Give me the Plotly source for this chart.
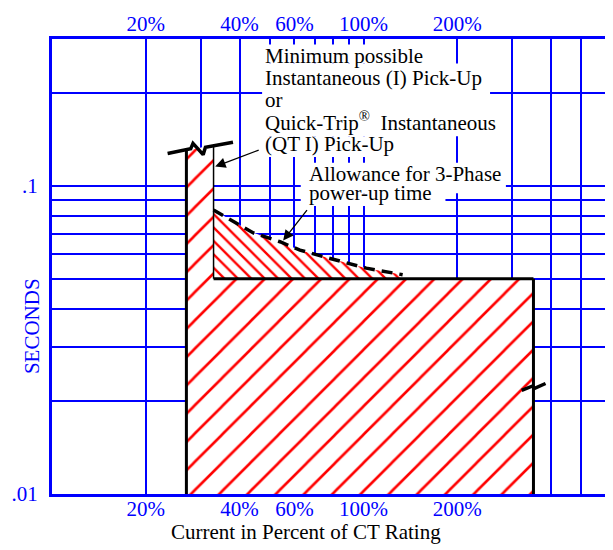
import numpy as np
import plotly.graph_objects as go

# ---------------- data ----------------
x_grid = [10, 20, 30, 40, 50, 60, 70, 80, 90, 100, 200, 300, 400, 500, 600]
x_tick_text = ["", "20%", "", "40%", "", "60%", "", "", "", "100%", "200%", "", "", "", ""]
y_grid = [0.01, 0.02, 0.03, 0.04, 0.05, 0.06, 0.07, 0.08, 0.09, 0.1, 0.2, 0.3]
y_tick_text = [".01", "", "", "", "", "", "", "", "", ".1", "", ""]
x_range = [10, 600]
y_range = [0.01, 0.3]

# Instantaneous pick-up band ("/" hatch)
band_x = [27.0, 27.0, 33.0, 33.0, 351.0, 351.0]
band_y = [0.01, 0.130, 0.136, 0.05, 0.05, 0.01]

# Allowance for 3-phase power-up time (dashed upper boundary, "\" hatch)
allow_x = [33.0, 38.3, 44.3, 53.9, 62.5, 74.1, 88.1, 102.0, 133.5, 138.0]
allow_y = [0.0836, 0.0767, 0.0704, 0.0659, 0.0619, 0.0590, 0.0562, 0.0541, 0.0515, 0.050]
allow_base = 0.05

# outline segments
left_edge_x = [27.0, 27.0]
left_edge_y = [0.01, 0.130]
inner_edge_x = [33.0, 33.0]
inner_edge_y = [0.136, 0.05]
top_edge_x = [33.0, 351.0]
top_edge_y = [0.05, 0.05]
right_edge_x = [351.0, 351.0]
right_edge_y = [0.05, 0.01]

# break marks
break_top_x = [23.5, 27.87, 28.35, 30.56, 31.08, 38.1]
break_top_y = [0.1275, 0.132, 0.1375, 0.1264, 0.1335, 0.1387]
break_right_x = [321.8, 348.8, 354.0, 383.8]
break_right_y = [0.02169, 0.02242, 0.02202, 0.02284]

# arrow targets
arrow1_tip = (33.4, 0.1156)
arrow2_tip = (55.2, 0.0665)

BLUE = "#0000ff"
SERIF = "Liberation Serif, Times New Roman, serif"
FS = 21

# page offset of the plotly div (default body margin) and plot-area pixel geometry
OFF = 8
L, R, T, B = 50, 609, 31, 494
W, H = 613, 550

def px(x):
    return (x - L) / (R - L)

def py(y):
    return (B - y) / (B - T)

fig = go.Figure()

# hatched regions
fig.add_trace(go.Scatter(
    x=band_x + [band_x[0]], y=band_y + [band_y[0]], fill="toself", mode="lines",
    line=dict(width=0, color="rgba(0,0,0,0)"), fillcolor="white",
    fillpattern=dict(shape="/", bgcolor="white", fgcolor="#ff0000", fgopacity=1,
                     size=20, solidity=0.13),
    hoverinfo="skip"))
fig.add_trace(go.Scatter(
    x=allow_x + [allow_x[-1], allow_x[0]], y=allow_y + [allow_base, allow_base],
    fill="toself", mode="lines",
    line=dict(width=0, color="rgba(0,0,0,0)"), fillcolor="white",
    fillpattern=dict(shape="\\", bgcolor="white", fgcolor="#ff0000", fgopacity=1,
                     size=9.5, solidity=0.25),
    hoverinfo="skip"))

# outlines
for xs, ys, w in [(left_edge_x, left_edge_y, 3), (inner_edge_x, inner_edge_y, 1.5),
                  (top_edge_x, top_edge_y, 3), (right_edge_x, right_edge_y, 3),
                  (break_top_x, break_top_y, 3.5), (break_right_x, break_right_y, 3.5)]:
    fig.add_trace(go.Scatter(x=xs, y=ys, mode="lines",
                             line=dict(color="black", width=w), hoverinfo="skip"))

fig.add_trace(go.Scatter(x=allow_x[:-1], y=allow_y[:-1], mode="lines",
                         line=dict(color="black", width=3.5, dash="11px,7px"),
                         hoverinfo="skip"))

# invisible trace so the top axis is drawn
fig.add_trace(go.Scatter(x=x_range, y=y_range, xaxis="x2", mode="none", hoverinfo="skip"))

# masks knocking out grid behind text
masks = [(262, 425, 36.5, 56), (262, 492, 56, 130), (262, 395, 130, 151),
         (301, 508, 157, 188), (301, 447, 188, 201)]
shapes = []
for x0, x1, y0, y1 in masks:
    shapes.append(dict(type="rect", xref="paper", yref="paper", x0=px(x0), x1=px(x1),
                       y0=py(y1), y1=py(y0), fillcolor="white", line=dict(width=0),
                       layer="above"))

ann = []
lines1 = ["Minimum possible", "Instantaneous (I) Pick-Up", "or",
          "Quick-Trip<sup>®</sup>\u00a0\u00a0Instantaneous", "(QT I) Pick-Up"]
centers1 = [48.2, 70.5, 92.8, 115.1, 137.4]
for t, c in zip(lines1, centers1):
    ann.append(dict(text=t, xref="paper", yref="paper", x=px(263), y=py(c),
                    xanchor="left", yanchor="middle", showarrow=False,
                    font=dict(family=SERIF, size=FS, color="black")))
lines2 = ["Allowance for 3-Phase", "power-up time"]
centers2 = [168.2, 187.5]
for t, c in zip(lines2, centers2):
    ann.append(dict(text=t, xref="paper", yref="paper", x=px(307.5), y=py(c),
                    xanchor="left", yanchor="middle", showarrow=False,
                    font=dict(family=SERIF, size=FS, color="black")))

# arrows
ann.append(dict(text="", x=np.log10(arrow1_tip[0]), y=np.log10(arrow1_tip[1]),
                xref="x", yref="y", showarrow=True, ax=45, ay=-17,
                arrowhead=2, arrowsize=1.6, arrowwidth=1.3, arrowcolor="black", standoff=0))
ann.append(dict(text="", x=np.log10(arrow2_tip[0]), y=np.log10(arrow2_tip[1]),
                xref="x", yref="y", showarrow=True, ax=25, ay=-32,
                arrowhead=2, arrowsize=1.6, arrowwidth=1.3, arrowcolor="black", standoff=0))

# axis titles
ann.append(dict(text="SECONDS", xref="paper", yref="paper", x=px(30.5), y=py(323.5),
                textangle=-90, showarrow=False, xanchor="center", yanchor="middle",
                font=dict(family=SERIF, size=FS, color=BLUE)))
ann.append(dict(text="Current in Percent of CT Rating", xref="paper", yref="paper",
                x=px(306.7), y=py(533), showarrow=False, xanchor="center", yanchor="middle",
                font=dict(family=SERIF, size=FS, color="black")))

axis_common = dict(type="log", zeroline=False, tickfont=dict(family=SERIF, size=FS, color=BLUE))

fig.update_layout(
    width=W - OFF, height=H - OFF,
    margin=dict(l=L - OFF, r=W - R, t=T - OFF, b=H - B, pad=0),
    paper_bgcolor="white", plot_bgcolor="white",
    showlegend=False,
    xaxis=dict(range=[np.log10(x_range[0]), np.log10(x_range[1])],
               tickmode="array", tickvals=x_grid, ticktext=x_tick_text,
               showgrid=True, gridcolor=BLUE, gridwidth=2,
               showline=True, linecolor=BLUE, linewidth=3, mirror=True,
               ticks="", ticklabelstandoff=-6, **axis_common),
    xaxis2=dict(range=[np.log10(x_range[0]), np.log10(x_range[1])], overlaying="x", side="top",
                tickmode="array", tickvals=x_grid, ticktext=x_tick_text,
                showgrid=False, showline=False, ticks="", ticklabelstandoff=3, **axis_common),
    yaxis=dict(range=[np.log10(y_range[0]), np.log10(y_range[1])],
               tickmode="array", tickvals=y_grid, ticktext=y_tick_text,
               showgrid=True, gridcolor=BLUE, gridwidth=2,
               showline=True, linecolor=BLUE, linewidth=3, mirror=True,
               ticks="outside", ticklen=7, tickcolor="rgba(0,0,0,0)", **axis_common),
    shapes=shapes,
    annotations=ann,
)

fig.write_html("out.html")
